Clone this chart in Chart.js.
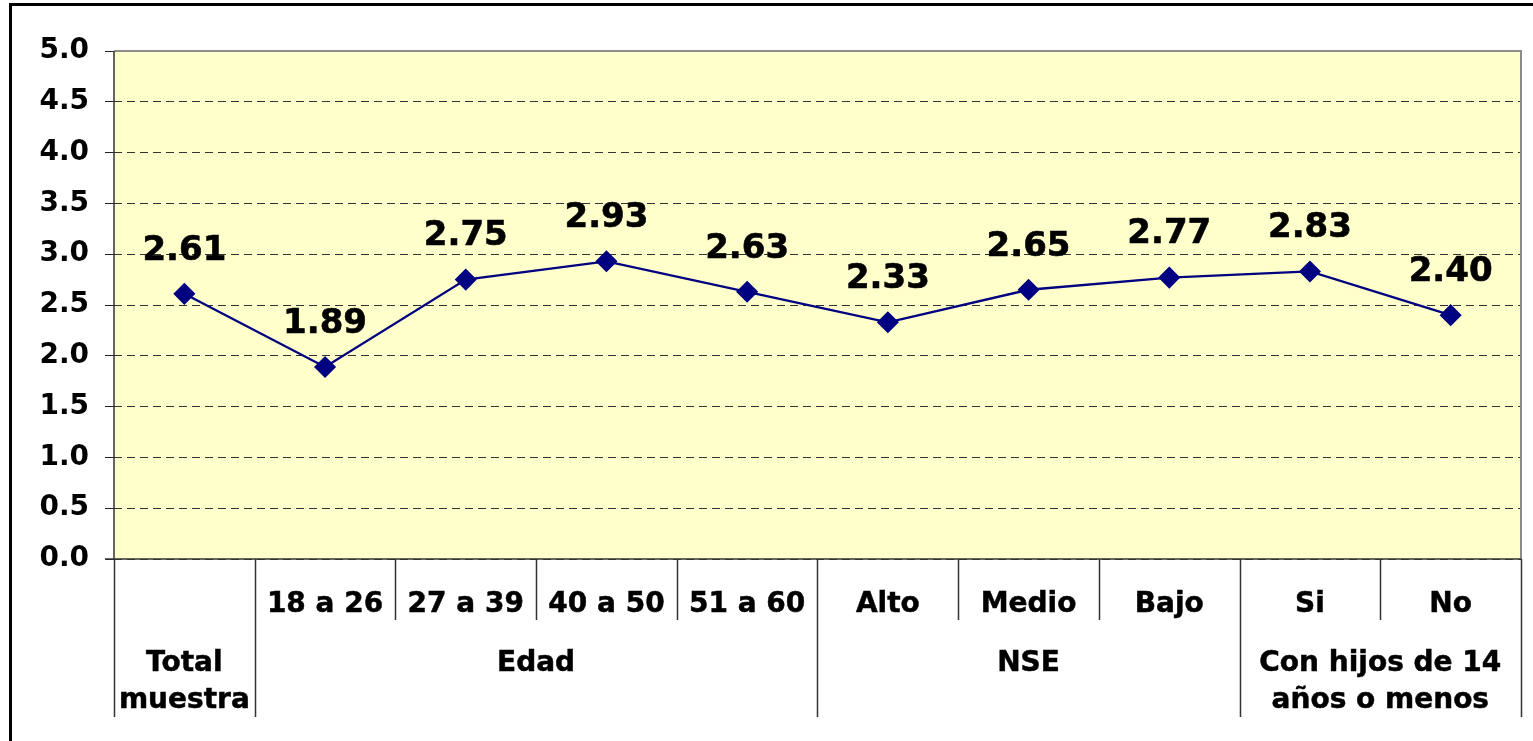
<!DOCTYPE html>
<html>
<head>
<meta charset="utf-8">
<script src="https://cdn.jsdelivr.net/npm/chart.js@4/dist/chart.umd.min.js"></script>
<style>
  html, body { margin: 0; padding: 0; background: #fff; overflow: hidden; }
  #frame {
    position: absolute; left: 9px; top: 3px; width: 1600px; height: 800px;
    border: 3px solid #000; box-sizing: border-box;
  }
  #chart { position: absolute; left: 0; top: 0; }
</style>
</head>
<body>
<div id="frame"></div>
<canvas id="chart" width="1533" height="741"></canvas>
<script>
  "use strict";

  const categoryLabels = ["", "18 a 26", "27 a 39", "40 a 50", "51 a 60", "Alto", "Medio", "Bajo", "Si", "No"];
  const values = [2.61, 1.89, 2.75, 2.93, 2.63, 2.33, 2.65, 2.77, 2.83, 2.40];
  const groupLabels = [["Total", "muestra"], ["Edad"], ["NSE"], ["Con hijos de 14", "años o menos"]];
  const groupSizes = [1, 4, 3, 2];
  const yTicks = { min: 0, max: 5, step: 0.5 };

  const FONT = "'DejaVu Sans', Verdana, sans-serif";

  const decorations = {
    id: "decorations",
    beforeDraw(chart) {
      const { ctx, chartArea: a } = chart;
      ctx.save();
      ctx.fillStyle = "#ffffcc";
      ctx.fillRect(a.left, a.top, a.right - a.left, a.bottom - a.top);
      ctx.restore();
    },
    afterDatasetsDraw(chart) {
      const { ctx } = chart;
      const meta = chart.getDatasetMeta(0);
      ctx.save();
      ctx.fillStyle = "#000";
      ctx.strokeStyle = "#000";
      ctx.lineWidth = 0.6;
      ctx.font = "bold 34px " + FONT;
      ctx.textAlign = "center";
      ctx.textBaseline = "middle";
      meta.data.forEach((pt, i) => {
        ctx.fillText(values[i].toFixed(2), pt.x, pt.y - 43);
        ctx.strokeText(values[i].toFixed(2), pt.x, pt.y - 43);
      });
      ctx.restore();
    },
    afterDraw(chart) {
      const { ctx, chartArea: a } = chart;
      const xs = chart.scales.x;
      const w = xs.getPixelForValue(1) - xs.getPixelForValue(0);
      const edge = (k) => xs.getPixelForValue(0) - w / 2 + k * w;

      ctx.save();
      // top / right border of plot area
      ctx.strokeStyle = "#8c8c8c";
      ctx.lineWidth = 2;
      ctx.beginPath();
      ctx.moveTo(a.left, a.top);
      ctx.lineTo(a.right, a.top);
      ctx.lineTo(a.right, a.bottom);
      ctx.stroke();

      // axis lines
      ctx.strokeStyle = "#333";
      ctx.lineWidth = 1.5;
      ctx.beginPath();
      ctx.moveTo(a.left, a.top);
      ctx.lineTo(a.left, a.bottom);
      ctx.moveTo(a.left - 9, a.bottom);
      ctx.lineTo(a.right, a.bottom);
      ctx.stroke();

      // category separators
      const bounds = [0];
      groupSizes.forEach((s) => bounds.push(bounds[bounds.length - 1] + s));
      ctx.beginPath();
      for (let k = 0; k <= values.length; k++) {
        const x = Math.round(edge(k)) + 0.5;
        const len = bounds.includes(k) ? 158 : 61;
        ctx.moveTo(x, a.bottom);
        ctx.lineTo(x, a.bottom + len);
      }
      ctx.stroke();

      // category labels
      ctx.fillStyle = "#000";
      ctx.strokeStyle = "#000";
      ctx.lineWidth = 0.5;
      ctx.font = "bold 28px " + FONT;
      ctx.textAlign = "center";
      ctx.textBaseline = "middle";
      categoryLabels.forEach((lab, i) => {
        ctx.fillText(lab, xs.getPixelForValue(i), a.bottom + 46);
        ctx.strokeText(lab, xs.getPixelForValue(i), a.bottom + 46);
      });

      // group labels
      groupLabels.forEach((lines, g) => {
        const cx = (edge(bounds[g]) + edge(bounds[g + 1])) / 2;
        lines.forEach((line, j) => {
          ctx.fillText(line, cx, a.bottom + 105 + j * 37);
          ctx.strokeText(line, cx, a.bottom + 105 + j * 37);
        });
      });
      ctx.restore();
    },
  };

  new Chart(document.getElementById("chart").getContext("2d"), {
    type: "line",
    data: {
      labels: categoryLabels,
      datasets: [
        {
          data: values,
          borderColor: "#000080",
          borderWidth: 2.3,
          backgroundColor: "#000080",
          pointStyle: "rectRot",
          pointRadius: 10,
          pointBorderWidth: 1.5,
          pointBorderColor: "#000080",
          tension: 0,
          fill: false,
        },
      ],
    },
    options: {
      responsive: false,
      animation: false,
      devicePixelRatio: 1,
      layout: { padding: { top: 51, right: 12, left: 0, bottom: 0 } },
      plugins: { legend: { display: false }, tooltip: { enabled: false } },
      scales: {
        x: {
          offset: true,
          grid: { display: false },
          border: { display: false },
          ticks: { display: false },
          afterFit: (s) => { s.height = 182; },
        },
        y: {
          min: yTicks.min,
          max: yTicks.max,
          grid: { color: "#333", lineWidth: 1, tickColor: "#222", tickLength: 9 },
          border: { display: false, dash: [8, 5] },
          ticks: {
            stepSize: yTicks.step,
            padding: 16,
            color: "#000",
            font: { family: FONT, size: 28, weight: "bold" },
            callback: (v) => Number(v).toFixed(1),
          },
          afterFit: (s) => { s.width = 114; },
        },
      },
    },
    plugins: [decorations],
  });
</script>
</body>
</html>
